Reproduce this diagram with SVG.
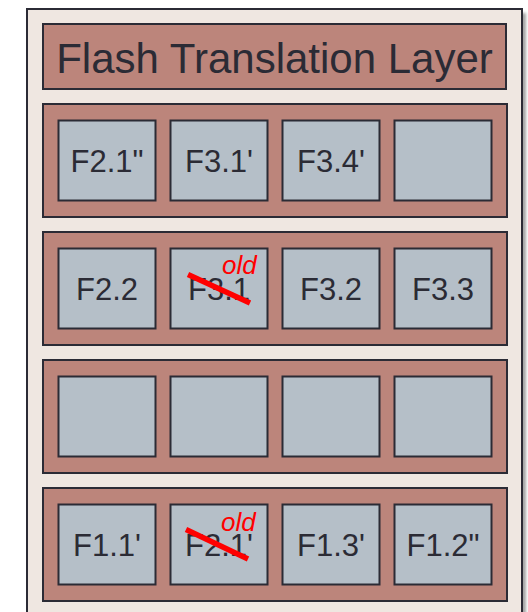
<svg xmlns="http://www.w3.org/2000/svg" width="528" height="612" viewBox="0 0 528 612">
  <defs>
    <filter id="shadow" x="-10%" y="-10%" width="120%" height="120%">
      <feGaussianBlur stdDeviation="1.5"/>
    </filter>
    <style>
      .row { fill: #bc857b; stroke: #2b2b35; stroke-width: 2; }
      .cell { fill: #b5bfc8; stroke: #2b2b35; stroke-width: 2; }
      .lbl { font-family: "Liberation Sans", Arial, sans-serif; font-size: 31px; fill: #2b2b35; text-anchor: middle; }
      .old { font-family: "Liberation Sans", Arial, sans-serif; font-size: 26px; font-style: italic; fill: #ff0000; }
      .strike { stroke: #ff0000; stroke-width: 5.5; }
    </style>
  </defs>
  <rect x="0" y="0" width="528" height="612" fill="#ffffff"/>
  <rect x="31" y="13" width="495" height="620" fill="#666" opacity="0.6" filter="url(#shadow)"/>
  <g id="ssd">
    <rect x="27" y="9" width="495" height="620" fill="#efe7e1" stroke="#2b2b35" stroke-width="2"/>
  </g>
  <g id="ftl">
    <rect class="row" x="43" y="24" width="463" height="65"/>
    <text x="274.5" y="73" font-family="'Liberation Sans', Arial, sans-serif" font-size="42" fill="#2b2b35" text-anchor="middle">Flash Translation Layer</text>
  </g>
  <g id="block1">
    <rect class="row" x="43" y="104" width="464" height="113"/>
    <g id="b1c1"><rect class="cell" x="58.5" y="120.5" width="97" height="80"/><text class="lbl" x="107" y="171.5">F2.1"</text></g>
    <g id="b1c2"><rect class="cell" x="170.5" y="120.5" width="97" height="80"/><text class="lbl" x="219" y="171.5">F3.1'</text></g>
    <g id="b1c3"><rect class="cell" x="282.5" y="120.5" width="97" height="80"/><text class="lbl" x="331" y="171.5">F3.4'</text></g>
    <g id="b1c4"><rect class="cell" x="394.5" y="120.5" width="97" height="80"/></g>
  </g>
  <g id="block2">
    <rect class="row" x="43" y="232" width="464" height="113"/>
    <g id="b2c1"><rect class="cell" x="58.5" y="248.5" width="97" height="80"/><text class="lbl" x="107" y="299.5">F2.2</text></g>
    <g id="b2c2"><rect class="cell" x="170.5" y="248.5" width="97" height="80"/><text class="lbl" x="219" y="299.5">F3.1</text>
      <line class="strike" x1="188" y1="274.5" x2="250" y2="303"/>
      <text class="old" x="222" y="274">old</text></g>
    <g id="b2c3"><rect class="cell" x="282.5" y="248.5" width="97" height="80"/><text class="lbl" x="331" y="299.5">F3.2</text></g>
    <g id="b2c4"><rect class="cell" x="394.5" y="248.5" width="97" height="80"/><text class="lbl" x="443" y="299.5">F3.3</text></g>
  </g>
  <g id="block3">
    <rect class="row" x="43" y="360" width="464" height="113"/>
    <g id="b3c1"><rect class="cell" x="58.5" y="376.5" width="97" height="80"/></g>
    <g id="b3c2"><rect class="cell" x="170.5" y="376.5" width="97" height="80"/></g>
    <g id="b3c3"><rect class="cell" x="282.5" y="376.5" width="97" height="80"/></g>
    <g id="b3c4"><rect class="cell" x="394.5" y="376.5" width="97" height="80"/></g>
  </g>
  <g id="block4">
    <rect class="row" x="43" y="488" width="464" height="113"/>
    <g id="b4c1"><rect class="cell" x="58.5" y="504.5" width="97" height="80"/><text class="lbl" x="107" y="555.5">F1.1'</text></g>
    <g id="b4c2"><rect class="cell" x="170.5" y="504.5" width="97" height="80"/><text class="lbl" x="219" y="555.5">F2.1'</text>
      <line class="strike" x1="186" y1="529.5" x2="248" y2="559"/>
      <text class="old" x="221" y="531">old</text></g>
    <g id="b4c3"><rect class="cell" x="282.5" y="504.5" width="97" height="80"/><text class="lbl" x="331" y="555.5">F1.3'</text></g>
    <g id="b4c4"><rect class="cell" x="394.5" y="504.5" width="97" height="80"/><text class="lbl" x="443" y="555.5">F1.2"</text></g>
  </g>
  <g id="connectors"/>
</svg>
